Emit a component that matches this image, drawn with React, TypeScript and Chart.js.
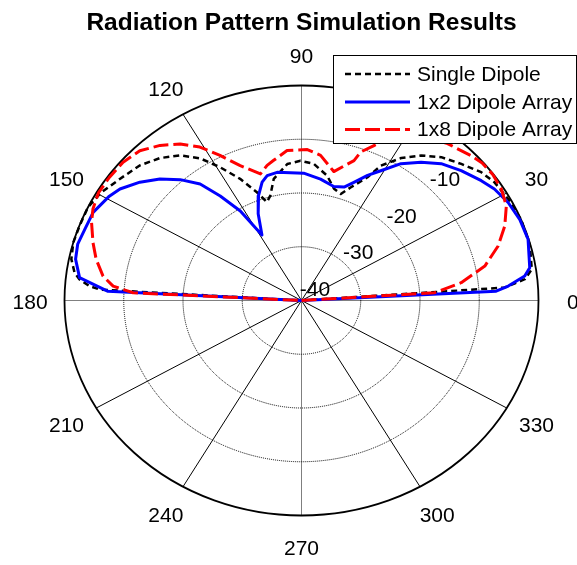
import React, { useEffect, useRef } from "react";
import { Chart, registerables } from "chart.js";

Chart.register(...registerables);

// ---------------- data ----------------
const TITLE = "Radiation Pattern Simulation Results";
const SERIES_LABELS = ["Single Dipole", "1x2 Dipole Array", "1x8 Dipole Array"];

// angle in degrees, gain in dB (values below -40 dB sit at the centre)
const singleAngles = [0, 4.0, 6.0, 8.5, 15, 22, 28, 34.0, 38.2, 43.3, 48.5, 53.2, 57.6, 61.9, 64.1, 68.5, 71.5, 75.2, 79.4, 85.3, 90.4, 95.4, 101.7, 105.1, 107.7, 110.5, 114.6, 119.0, 122.9, 127.2, 132.1, 137.4, 143.6, 149.6, 154.3, 159.7, 164.3, 168.8, 172.3, 174.0, 175.7, 176.6, 180];
const singleDb = [-40, -5.7, -2.1, -0.7, -0.1, 0, -0.3, -0.7, -1.4, -2.95, -4.4, -6.3, -8.6, -11.55, -14.5, -17.4, -19.1, -18.5, -16.4, -14.5, -14.0, -14.5, -16.9, -19.8, -20.8, -18.5, -15.1, -11.65, -8.5, -6.1, -4.3, -2.9, -1.9, -0.6, 0, -0.05, 0, -0.4, -1.35, -2.3, -4.1, -6.0, -40];

const array2Angles = [0, 3.0, 4.4, 6.9, 9.0, 16.6, 22.2, 27.6, 32.5, 36.3, 41.9, 47.2, 51.9, 56.6, 61.0, 64.4, 68.1, 71.2, 75.6, 81.9, 89.1, 99.8, 104.0, 106.8, 110.4, 114.4, 118.7, 121.8, 125.2, 128.3, 132.3, 136.6, 141.1, 145.9, 149.1, 155.0, 160.1, 164.5, 168.6, 173.5, 177.0, 180];
const array2Db = [-40, -7.1, -5.0, -2.05, -1.0, -0.1, -0.2, -0.65, -1.4, -2.35, -3.8, -5.3, -7.3, -9.5, -12.4, -14.2, -16.3, -17.7, -18.1, -17.2, -16.3, -15.8, -16.05, -17.0, -19.2, -22.3, -26.1, -20.4, -16.2, -12.4, -9.6, -7.1, -4.95, -3.0, -2.2, -1.2, -1.1, -0.8, -1.1, -2.3, -7.3, -40];

const array8Angles = [0, 3.7, 7.0, 11.7, 17.0, 22.0, 27.0, 31.6, 36.0, 40.0, 43.3, 49.8, 55, 60, 64.2, 67.0, 70.1, 71.2, 77.2, 83.2, 88.0, 95.0, 100.2, 103.0, 106.4, 112.4, 117.0, 121.0, 125.1, 129.6, 134.4, 139.5, 144.8, 149.6, 154.2, 157.7, 163.0, 167.5, 172.3, 175.2, 177.1, 180];
const array8Db = [-40, -17.5, -12.85, -8.4, -5.3, -3.0, -1.2, -0.4, -0.1, -0.2, -0.7, -1.8, -3.0, -4.8, -6.6, -8.7, -10.6, -12.5, -15.4, -12.8, -11.9, -12.0, -13.5, -14.2, -15.45, -12.85, -9.7, -6.7, -4.4, -2.55, -1.0, -0.4, -0.3, -0.3, -0.9, -1.7, -3.2, -4.5, -6.2, -8.1, -11.55, -40];

const RING_DB = [-40, -30, -20, -10];
const RING_LABELS = ["-40", "-30", "-20", "-10"];
const SPOKE_ANGLES = [0, 30, 60, 90, 120, 150, 180, 210, 240, 270, 300, 330];
const ANGLE_LABELS = ["0", "30", "60", "90", "120", "150", "180", "210", "240", "270", "300", "330"];

const DB_FLOOR = -40;
const DB_CEIL = 0;

// ---------------- helpers ----------------
function toXY(angles: number[], db: number[]) {
  return angles.map((a, i) => {
    const r = Math.max(db[i], DB_FLOOR) - DB_FLOOR;
    const t = (a * Math.PI) / 180;
    return { x: r * Math.cos(t), y: r * Math.sin(t) };
  });
}

const FONT = "'Liberation Sans', Arial, Helvetica, sans-serif";

const polarGrid = {
  id: "polarGrid",
  beforeDatasetsDraw(chart: any) {
    const { ctx } = chart;
    const xs = chart.scales.x;
    const ys = chart.scales.y;
    const P = (r: number, deg: number) => {
      const t = (deg * Math.PI) / 180;
      return [xs.getPixelForValue(r * Math.cos(t)), ys.getPixelForValue(r * Math.sin(t))];
    };
    const cx = xs.getPixelForValue(0);
    const cy = ys.getPixelForValue(0);
    const rMax = DB_CEIL - DB_FLOOR;
    const ellipse = (r: number) => {
      const rx = xs.getPixelForValue(r) - cx;
      const ry = cy - ys.getPixelForValue(r);
      ctx.beginPath();
      ctx.ellipse(cx, cy, rx, ry, 0, 0, Math.PI * 2);
    };
    ctx.save();
    ctx.strokeStyle = "#000";
    ctx.lineWidth = 1;
    ctx.setLineDash([1, 1]);
    RING_DB.forEach((db) => {
      const r = db - DB_FLOOR;
      if (r > 0 && r < rMax) {
        ellipse(r);
        ctx.stroke();
      }
    });
    SPOKE_ANGLES.forEach((a) => {
      const dotted = a % 90 === 0;
      ctx.setLineDash(dotted ? [1, 1] : []);
      ctx.lineWidth = 1;
      const [x1, y1] = P(rMax, a);
      ctx.beginPath();
      ctx.moveTo(cx, cy);
      ctx.lineTo(x1, y1);
      ctx.stroke();
    });
    ctx.setLineDash([]);
    ctx.lineWidth = 1.8;
    ellipse(rMax);
    ctx.stroke();

    ctx.fillStyle = "#000";
    ctx.font = `21px ${FONT}`;
    ctx.textAlign = "center";
    ctx.textBaseline = "middle";
    SPOKE_ANGLES.forEach((a, i) => {
      const [x, y] = P(rMax * 1.145, a);
      ctx.fillText(ANGLE_LABELS[i], x, y + 3);
    });
    RING_DB.forEach((db, i) => {
      const [x, y] = P(db - DB_FLOOR + 3.1, 43);
      ctx.fillText(RING_LABELS[i], x, y + 1);
    });
    ctx.restore();
  },
};

const boxLegend = {
  id: "boxLegend",
  afterDraw(chart: any, _args: any, opts: any) {
    const { ctx } = chart;
    const { left, top, right, bottom, lineStart, lineEnd, textX, rowY } = opts;
    ctx.save();
    ctx.fillStyle = "#fff";
    ctx.fillRect(left, top, right - left, bottom - top);
    ctx.strokeStyle = "#000";
    ctx.lineWidth = 1;
    ctx.setLineDash([]);
    ctx.strokeRect(left + 0.5, top + 0.5, right - left - 1, bottom - top - 1);
    chart.data.datasets.forEach((ds: any, i: number) => {
      const y = rowY[i];
      ctx.strokeStyle = ds.borderColor;
      ctx.lineWidth = ds.borderWidth;
      ctx.lineCap = "butt";
      ctx.setLineDash(ds.borderDash || []);
      ctx.beginPath();
      ctx.moveTo(lineStart, y);
      ctx.lineTo(lineEnd, y);
      ctx.stroke();
      ctx.setLineDash([]);
      ctx.fillStyle = "#000";
      ctx.font = `21px ${FONT}`;
      ctx.textAlign = "left";
      ctx.textBaseline = "middle";
      ctx.fillText(ds.label, textX, y + 1);
    });
    ctx.restore();
  },
};

// ---------------- component ----------------
export default function App() {
  const canvasRef = useRef<HTMLCanvasElement | null>(null);

  useEffect(() => {
    if (!canvasRef.current) return;
    const pxPerUnitX = 5.925;
    const pxPerUnitY = 5.375;
    const centerX = 301.5;
    const centerY = 300.5;
    const areaLeft = 26;
    const areaTop = 40;
    const W = 577;
    const H = 565;

    const chart = new Chart(canvasRef.current, {
      type: "scatter",
      data: {
        datasets: [
          {
            label: SERIES_LABELS[0],
            data: toXY(singleAngles, singleDb),
            showLine: true,
            borderColor: "#000000",
            borderWidth: 2.5,
            borderDash: [6, 4],
            borderCapStyle: "butt",
            borderJoinStyle: "round",
            pointRadius: 0,
            tension: 0,
            fill: false,
            order: 3,
          },
          {
            label: SERIES_LABELS[1],
            data: toXY(array2Angles, array2Db),
            showLine: true,
            borderColor: "#0000ff",
            borderWidth: 3,
            borderDash: [],
            borderJoinStyle: "round",
            pointRadius: 0,
            tension: 0,
            fill: false,
            order: 2,
          },
          {
            label: SERIES_LABELS[2],
            data: toXY(array8Angles, array8Db),
            showLine: true,
            borderColor: "#ff0000",
            borderWidth: 3,
            borderDash: [15, 5],
            borderCapStyle: "butt",
            borderJoinStyle: "round",
            pointRadius: 0,
            tension: 0,
            fill: false,
            order: 1,
          },
        ],
      },
      options: {
        responsive: false,
        animation: false,
        events: [],
        layout: { padding: { left: areaLeft, top: 0, right: 0, bottom: 0 } },
        scales: {
          x: {
            type: "linear",
            display: false,
            min: -(centerX - areaLeft) / pxPerUnitX,
            max: (W - centerX) / pxPerUnitX,
          },
          y: {
            type: "linear",
            display: false,
            min: -(H - centerY) / pxPerUnitY,
            max: (centerY - areaTop) / pxPerUnitY,
          },
        },
        plugins: {
          legend: { display: false },
          tooltip: { enabled: false },
          title: {
            display: true,
            text: TITLE,
            color: "#000",
            font: { family: FONT, size: 24.5, weight: "bold", lineHeight: 1.2 },
            padding: { top: 9, bottom: 40 - 9 - 24.5 * 1.2 },
          },
          boxLegend: {
            left: 333,
            top: 55,
            right: 577,
            bottom: 144,
            lineStart: 345,
            lineEnd: 410,
            textX: 417,
            rowY: [74, 102, 129.5],
          },
        } as any,
      },
      plugins: [polarGrid, boxLegend],
    });
    return () => chart.destroy();
  }, []);

  return (
    <div style={{ position: "absolute", left: 0, top: 0, width: 577, height: 565, background: "#fff" }}>
      <canvas ref={canvasRef} width={577} height={565} style={{ display: "block" }} />
    </div>
  );
}
